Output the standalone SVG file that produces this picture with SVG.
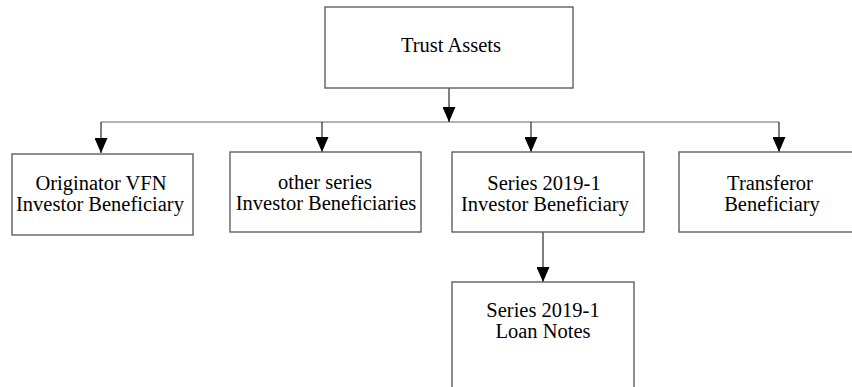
<svg xmlns="http://www.w3.org/2000/svg" width="852" height="387" viewBox="0 0 852 387">
<style>
.box{fill:#fff;stroke:#5f5f5f;stroke-width:1.4}
.t{font-family:"Liberation Serif","Times New Roman",serif;font-size:20.5px;fill:#000;text-anchor:middle}
.c{stroke:#000;stroke-width:1;fill:none;marker-end:url(#ah)}
.bus{stroke:#9a9a9a;stroke-width:1.4;fill:none}
</style>
<defs>
<marker id="ah" markerWidth="15" markerHeight="13" refX="15" refY="6.5" orient="auto" markerUnits="userSpaceOnUse" viewBox="0 0 15 13">
<path d="M0,0 L15,6.5 L0,13 Z" fill="#000"/>
</marker>
</defs>
<rect width="852" height="387" fill="#fff"/>
<g id="connectors">
<line class="bus" x1="101" y1="122" x2="779" y2="122"/>
<line class="c" x1="449" y1="88" x2="449" y2="122"/>
<line class="c" x1="101" y1="122" x2="101" y2="153"/>
<line class="c" x1="322" y1="122" x2="322" y2="152"/>
<line class="c" x1="531" y1="122" x2="531" y2="152"/>
<line class="c" x1="779" y1="122" x2="779" y2="152"/>
<line class="c" x1="543" y1="232" x2="543" y2="282"/>
</g>
<g id="trust-assets">
<rect class="box" x="325" y="7" width="248" height="81"/>
<text class="t" x="451" y="52">Trust Assets</text>
</g>
<g id="originator-vfn">
<rect class="box" x="12" y="154" width="181" height="81"/>
<text class="t" x="101" y="190">Originator VFN</text>
<text class="t" x="100" y="211">Investor Beneficiary</text>
</g>
<g id="other-series">
<rect class="box" x="230" y="152" width="191" height="80"/>
<text class="t" x="325" y="189">other series</text>
<text class="t" x="326" y="210">Investor Beneficiaries</text>
</g>
<g id="series-2019-1-investor">
<rect class="box" x="452" y="152" width="192" height="80"/>
<text class="t" x="544" y="190">Series 2019-1</text>
<text class="t" x="545" y="211">Investor Beneficiary</text>
</g>
<g id="transferor">
<rect class="box" x="679" y="152" width="200" height="80"/>
<text class="t" x="770" y="190">Transferor</text>
<text class="t" x="772" y="211">Beneficiary</text>
</g>
<g id="loan-notes">
<rect class="box" x="452" y="282" width="182" height="110"/>
<text class="t" x="543" y="317">Series 2019-1</text>
<text class="t" x="543" y="338">Loan Notes</text>
</g>
</svg>
